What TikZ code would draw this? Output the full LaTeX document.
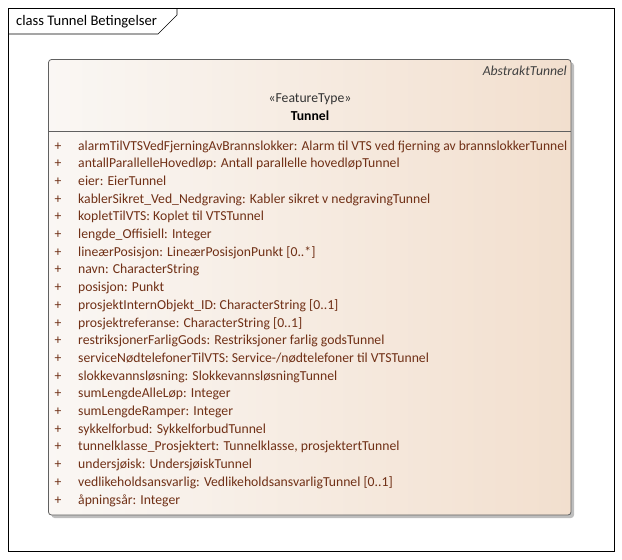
\documentclass[tikz,border=0pt]{standalone}
\usepackage{fontspec}
\usepackage{graphicx}
\setmainfont{Carlito}
\definecolor{attrcol}{RGB}{112,48,22}
\definecolor{boxleft}{RGB}{250,247,244}
\definecolor{boxright}{RGB}{242,223,206}
\definecolor{edgecol}{RGB}{96,96,96}
\definecolor{shadowcol}{RGB}{190,190,190}
\newcommand{\fsz}{\fontsize{13.7}{16}\selectfont}
\tikzset{
  attr/.style={anchor=base west, inner sep=0pt, text=attrcol, font=\fsz},
  plus/.style={anchor=base, inner sep=0pt, text=attrcol, font=\fsz},
  hdr/.style={inner sep=0pt, font=\fsz},
}
\begin{document}
\begin{tikzpicture}[x=1pt,y=-1pt]
\useasboundingbox (0,0) rectangle (622,560);
% frame
\draw[line width=0.9pt] (8,8) rectangle (614,551);
\draw[line width=0.7pt] (8,34) -- (158,34) -- (177,15) -- (177,8);
\node[anchor=base west, inner sep=0pt, font=\fontsize{14.6}{16}\selectfont] (title) at (16,25.5) {class Tunnel Betingelser};
% class box
\fill[shadowcol, rounded corners=3pt] (51.5,62.5) rectangle (574,518);
\shade[left color=boxleft, right color=boxright, rounded corners=3pt] (48.5,59.5) rectangle (571,515);
\draw[edgecol, line width=0.8pt, rounded corners=3pt] (48.5,59.5) rectangle (571,515);
\draw[edgecol, line width=0.8pt] (48.5,131) -- (571,131);
\node[hdr, anchor=base east, text=black!75, font=\fsz\itshape] (abs) at (567,75.5) {AbstraktTunnel};
\node[hdr, anchor=base, text=black!80] (st) at (310,102.5) {«FeatureType»};
\node[hdr, anchor=base, font=\fsz\bfseries] (nm) at (310,120) {Tunnel};
% attributes
\node[plus] (p1) at (58,150) {+};
\node[attr] (a1) at (78,150) {\resizebox{489pt}{\height}{alarmTilVTSVedFjerningAvBrannslokker: Alarm til VTS ved fjerning av brannslokkerTunnel}};
\foreach \t [count=\j] in {
 {antallParallelleHovedløp: Antall parallelle hovedløpTunnel},
 {eier: EierTunnel},
 {kablerSikret\_Ved\_Nedgraving: Kabler sikret v nedgravingTunnel},
 {kopletTilVTS: Koplet til VTSTunnel},
 {lengde\_Offisiell: Integer},
 {lineærPosisjon: LineærPosisjonPunkt [0..*]},
 {navn: CharacterString},
 {posisjon: Punkt},
 {prosjektInternObjekt\_ID: CharacterString [0..1]},
 {prosjektreferanse: CharacterString [0..1]},
 {restriksjonerFarligGods: Restriksjoner farlig godsTunnel},
 {serviceNødtelefonerTilVTS: Service-/nødtelefoner til VTSTunnel},
 {slokkevannsløsning: SlokkevannsløsningTunnel},
 {sumLengdeAlleLøp: Integer},
 {sumLengdeRamper: Integer},
 {sykkelforbud: SykkelforbudTunnel},
 {tunnelklasse\_Prosjektert: Tunnelklasse, prosjektertTunnel},
 {undersjøisk: UndersjøiskTunnel},
 {vedlikeholdsansvarlig: VedlikeholdsansvarligTunnel [0..1]},
 {åpningsår: Integer}} {
  \pgfmathtruncatemacro{\i}{\j+1}
  \node[plus] (p\i) at (58,{150+\j*17.7}) {+};
  \node[attr] (a\i) at (78,{150+\j*17.7}) {\t};
}
\end{tikzpicture}
\end{document}
